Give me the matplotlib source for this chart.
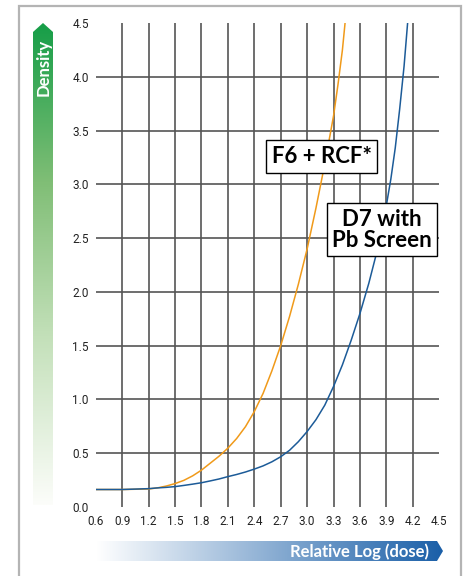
import numpy as np
import matplotlib
matplotlib.use("Agg")
from matplotlib import pyplot as plt
from matplotlib.colors import LinearSegmentedColormap
from matplotlib.patches import Polygon

# ejes
x_ticks = [0.6, 0.9, 1.2, 1.5, 1.8, 2.1, 2.4, 2.7, 3.0, 3.3, 3.6, 3.9, 4.2, 4.5]
y_ticks = [0.0, 0.5, 1.0, 1.5, 2.0, 2.5, 3.0, 3.5, 4.0, 4.5]

# F6 + RCF*
f6_x = [0.6, 0.9, 1.2, 1.3, 1.4, 1.5, 1.6, 1.7, 1.8, 1.9, 2.0, 2.1, 2.2, 2.3, 2.4, 2.5, 2.6, 2.7,
        2.8, 2.9, 3.0, 3.1, 3.2, 3.3, 3.35, 3.4, 3.43]
f6_y = [0.16, 0.16, 0.165, 0.175, 0.192, 0.215, 0.245, 0.287, 0.34, 0.405, 0.47, 0.545, 0.635, 0.745, 0.885,
        1.055, 1.265, 1.50, 1.77, 2.07, 2.40, 2.78, 3.19, 3.64, 3.93, 4.25, 4.5]

# D7 with Pb Screen
d7_x = [0.6, 0.9, 1.2, 1.3, 1.4, 1.5, 1.6, 1.7, 1.8, 1.9, 2.0, 2.1, 2.2, 2.3, 2.4, 2.5, 2.6, 2.7, 2.8,
        2.9, 3.0, 3.1, 3.2, 3.3, 3.4, 3.5, 3.6, 3.7, 3.8, 3.85, 3.9, 3.95, 4.0, 4.05, 4.1, 4.14]
d7_y = [0.16, 0.16, 0.168, 0.175, 0.18, 0.187, 0.198, 0.21, 0.223, 0.24, 0.258, 0.28, 0.30, 0.323, 0.35,
        0.38, 0.418, 0.465, 0.525, 0.605, 0.70, 0.81, 0.945, 1.12, 1.32, 1.55, 1.80, 2.08, 2.40, 2.60,
        2.81, 3.05, 3.34, 3.70, 4.10, 4.5]

W, H = 466, 576
fig = plt.figure(figsize=(W / 100, H / 100), dpi=100)

# capa decorativa en pixeles
deco = fig.add_axes([0, 0, 1, 1], zorder=0)
deco.set_xlim(0, W)
deco.set_ylim(H, 0)
deco.axis("off")

# marco gris
deco.plot([18.5, 18.5, 461, 461], [600, 5.7, 5.7, 600], color="#b4b4b4", lw=1.6, solid_joinstyle="miter")

# flecha verde (Density)
verde = LinearSegmentedColormap.from_list("verde", [(0.0, (22/255, 158/255, 72/255)),
                                                    (0.33, (128/255, 190/255, 118/255)),
                                                    (0.65, (195/255, 224/255, 185/255)),
                                                    (1.0, (252/255, 253/255, 250/255))])
grad = np.linspace(0, 1, 256).reshape(-1, 1)
im = deco.imshow(grad, cmap=verde, extent=[33, 53, 505, 23], aspect="auto", interpolation="bilinear")
flecha_v = Polygon([(33, 505), (33, 32), (43, 23), (53, 32), (53, 505)], closed=True, transform=deco.transData, fc="none", ec="none")
deco.add_patch(flecha_v)
im.set_clip_path(flecha_v)
deco.text(43.5, 67.5, "Density", rotation=90, color="white", fontsize=12, fontweight="bold",
          family="Lato", ha="center", va="center")

# flecha azul (Relative Log (dose))
azul = LinearSegmentedColormap.from_list("azul", ["#ffffff", "#1a5fa8"])
grad_h = np.linspace(0, 1, 256).reshape(1, -1)
im2 = deco.imshow(grad_h, cmap=azul, extent=[96, 443, 561, 541], aspect="auto", interpolation="bilinear")
flecha_h = Polygon([(96, 541), (437, 541), (443, 551), (437, 561), (96, 561)], closed=True, transform=deco.transData, fc="none", ec="none")
deco.add_patch(flecha_h)
im2.set_clip_path(flecha_h)
deco.text(429, 551.5, "Relative Log (dose)", color="white", fontsize=12, fontweight="bold",
          family="Lato", ha="right", va="center")

# grafica principal
ax = fig.add_axes([95.7 / W, 1 - 506.7 / H, (439.3 - 95.7) / W, (506.7 - 23.3) / H], zorder=1)
ax.patch.set_visible(False)
ax.set_xlim(x_ticks[0], x_ticks[-1])
ax.set_ylim(y_ticks[0], y_ticks[-1])
for s in ax.spines.values():
    s.set_visible(False)

for xv in x_ticks[1:-1]:
    ax.axvline(xv, color="#555555", lw=1.2, zorder=1)
for yv in y_ticks[1:-1]:
    ax.axhline(yv, color="#555555", lw=1.2, zorder=1)

ax.plot(f6_x, f6_y, color="#f09a1a", lw=1.1, zorder=3, solid_joinstyle="round")
ax.plot(d7_x, d7_y, color="#1c5b98", lw=1.1, zorder=3, solid_joinstyle="round")

ax.set_xticks(x_ticks)
ax.set_yticks(y_ticks)
ax.set_xticklabels([f"{v:.1f}" for v in x_ticks])
ax.set_yticklabels([f"{v:.1f}" for v in y_ticks])
ax.tick_params(length=0, labelsize=8.5, colors="#222222")
ax.tick_params(axis="y", pad=5)
ax.tick_params(axis="x", pad=6)
for lab in ax.get_xticklabels() + ax.get_yticklabels():
    lab.set_family("Roboto")

caja = dict(boxstyle="square,pad=0.25", fc="white", ec="black", lw=1.0)
ax.text(3.164, 3.26, "F6 + RCF*", fontsize=16, fontweight="bold", family="Lato",
        ha="center", va="center", bbox=caja, zorder=5)
ax.text(3.849, 2.58, "D7 with\nPb Screen", fontsize=16, fontweight="bold", family="Lato",
        ha="center", va="center", linespacing=1.0, bbox=caja, zorder=5)

plt.savefig("out.png", dpi=100)
